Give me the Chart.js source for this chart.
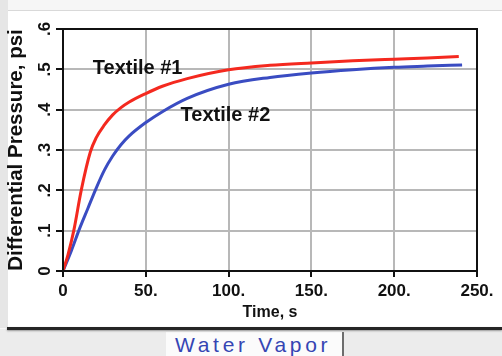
<!DOCTYPE html>
<html>
<head>
<meta charset="utf-8">
<script src="https://cdn.jsdelivr.net/npm/chart.js@4"></script>
<style>
  html, body { margin: 0; padding: 0; }
  body { width: 502px; height: 356px; position: relative; overflow: hidden; background: #f6f6f6; font-family: "Liberation Sans", Arial, sans-serif; }
  #leftStrip { position: absolute; left: 0; top: 0; width: 8px; height: 328px; background: #e6e6e6; }
  #panel { position: absolute; left: 8px; top: 10px; right: 0; height: 317px; background: #fff; border-top: 1px solid #d9d9d9; }
  #bottomBar { position: absolute; left: 0; top: 329px; right: 0; bottom: 0; background: #ececec; }
  #darkLine { position: absolute; left: 7px; top: 327px; right: 0; height: 3px; background: #262626; box-shadow: 0 1px 2px #999; }
  #tab { position: absolute; left: 166px; top: 332px; width: 176px; bottom: 0; background: #fbfbfb; border-right: 2px solid #6d6d6d; }
  #tabText { position: absolute; left: 9px; top: 1px; font-size: 21px; letter-spacing: 3.7px; color: #3545b3; white-space: nowrap; }
  #wrap { position: absolute; left: 0; top: 0; width: 502px; height: 356px; }
</style>
</head>
<body>
<div id="leftStrip"></div>
<div id="panel"></div>
<div id="bottomBar"></div>
<div id="tab"><span id="tabText">Water Vapor</span></div>
<div id="darkLine"></div>
<div id="wrap"><canvas id="pressureChart"></canvas></div>

<script>
// data
const timeTextile1 = [0, 3, 6.5, 11, 16.5, 20, 25, 30, 35, 40, 50, 60, 75, 100, 125, 150, 175, 200, 220, 239]
const pressureTextile1 = [0, 0.04, 0.1, 0.2, 0.295, 0.33, 0.362, 0.387, 0.405, 0.419, 0.44, 0.458, 0.477, 0.499, 0.51, 0.516, 0.521, 0.525, 0.528, 0.532]

const timeTextile2 = [0, 5, 10, 15, 20, 25, 30, 35, 40, 50, 60, 75, 100, 125, 150, 175, 200, 220, 241]
const pressureTextile2 = [0, 0.05, 0.105, 0.155, 0.205, 0.25, 0.285, 0.313, 0.335, 0.368, 0.395, 0.428, 0.463, 0.48, 0.491, 0.499, 0.505, 0.508, 0.511]

const seriesNames = ['Textile #1', 'Textile #2']
const xTicks = [0, 50, 100, 150, 200, 250]
const yTicks = [0, 0.1, 0.2, 0.3, 0.4, 0.5, 0.6]

// colors
const redLine = '#f4291f'
const blueLine = '#3a4cc2'
const gridGray = '#b8b8b8'

function toPoints(xs, ys) {
    return xs.map((x, i) => ({ x: x, y: ys[i] }))
}

// curve labels, anchored in data coordinates
const curveLabels = {
    id: 'curveLabels',
    afterDatasetsDraw(chart) {
        const ctx = chart.ctx
        const xs = chart.scales.x
        const ys = chart.scales.y
        ctx.save()
        ctx.font = 'bold 20px "Liberation Sans", Arial, sans-serif'
        ctx.fillStyle = '#111'
        ctx.textBaseline = 'middle'
        ctx.textAlign = 'left'
        ctx.fillText(seriesNames[0], xs.getPixelForValue(18), ys.getPixelForValue(0.503))
        ctx.fillText(seriesNames[1], xs.getPixelForValue(71), ys.getPixelForValue(0.385))
        ctx.restore()
    },
    afterDraw(chart) {
        // black frame on top / right like the original
        const a = chart.chartArea
        const ctx = chart.ctx
        ctx.save()
        ctx.strokeStyle = '#111'
        ctx.lineWidth = 2
        ctx.strokeRect(a.left, a.top, a.right - a.left, a.bottom - a.top)
        ctx.restore()
    }
}

const tickFont = { family: '"Liberation Sans", Arial, sans-serif', size: 17, weight: 'bold' }

let pressureChart = new Chart(document.getElementById('pressureChart'), {
    type: 'line',
    data: {
        datasets: [{
            label: seriesNames[0],
            data: toPoints(timeTextile1, pressureTextile1),
            borderColor: redLine,
            borderWidth: 3,
            pointRadius: 0,
            cubicInterpolationMode: 'monotone'
        }, {
            label: seriesNames[1],
            data: toPoints(timeTextile2, pressureTextile2),
            borderColor: blueLine,
            borderWidth: 3,
            pointRadius: 0,
            cubicInterpolationMode: 'monotone'
        }]
    },
    options: {
        responsive: true,
        maintainAspectRatio: false,
        animation: false,
        layout: {
            padding: { left: 4, top: 29, right: 25, bottom: 30 }
        },
        plugins: {
            legend: { display: false },
            tooltip: { enabled: false }
        },
        scales: {
            x: {
                type: 'linear',
                min: 0,
                max: 250,
                afterBuildTicks: (scale) => { scale.ticks = xTicks.map(v => ({ value: v })) },
                afterFit: (scale) => { scale.height = 55 },
                grid: { color: gridGray, lineWidth: 2, tickColor: '#111', tickLength: 6 },
                border: { color: '#111', width: 2 },
                ticks: {
                    color: '#111',
                    font: tickFont,
                    padding: 4,
                    maxRotation: 0,
                    callback: (v) => v === 0 ? '0' : v + '.'
                },
                title: {
                    display: true,
                    text: 'Time, s',
                    color: '#111',
                    font: { family: '"Liberation Sans", Arial, sans-serif', size: 16, weight: 'bold' },
                    padding: { top: 0, bottom: 4 }
                }
            },
            y: {
                type: 'linear',
                min: 0,
                max: 0.6,
                afterBuildTicks: (scale) => { scale.ticks = yTicks.map(v => ({ value: v })) },
                afterFit: (scale) => { scale.width = 59 },
                grid: { color: gridGray, lineWidth: 2, tickColor: '#111', tickLength: 7 },
                border: { color: '#111', width: 2 },
                ticks: {
                    color: '#111',
                    font: tickFont,
                    padding: 4,
                    minRotation: 90,
                    maxRotation: 90,
                    crossAlign: 'center',
                    callback: (v) => v === 0 ? '0' : '.' + Math.round(v * 10)
                },
                title: {
                    display: true,
                    text: 'Differential Pressure, psi',
                    color: '#111',
                    font: { family: '"Liberation Sans", Arial, sans-serif', size: 20.5, weight: 'bold' },
                    padding: { top: 0, bottom: 0 }
                }
            }
        }
    },
    plugins: [curveLabels]
});
</script>
</body>
</html>
